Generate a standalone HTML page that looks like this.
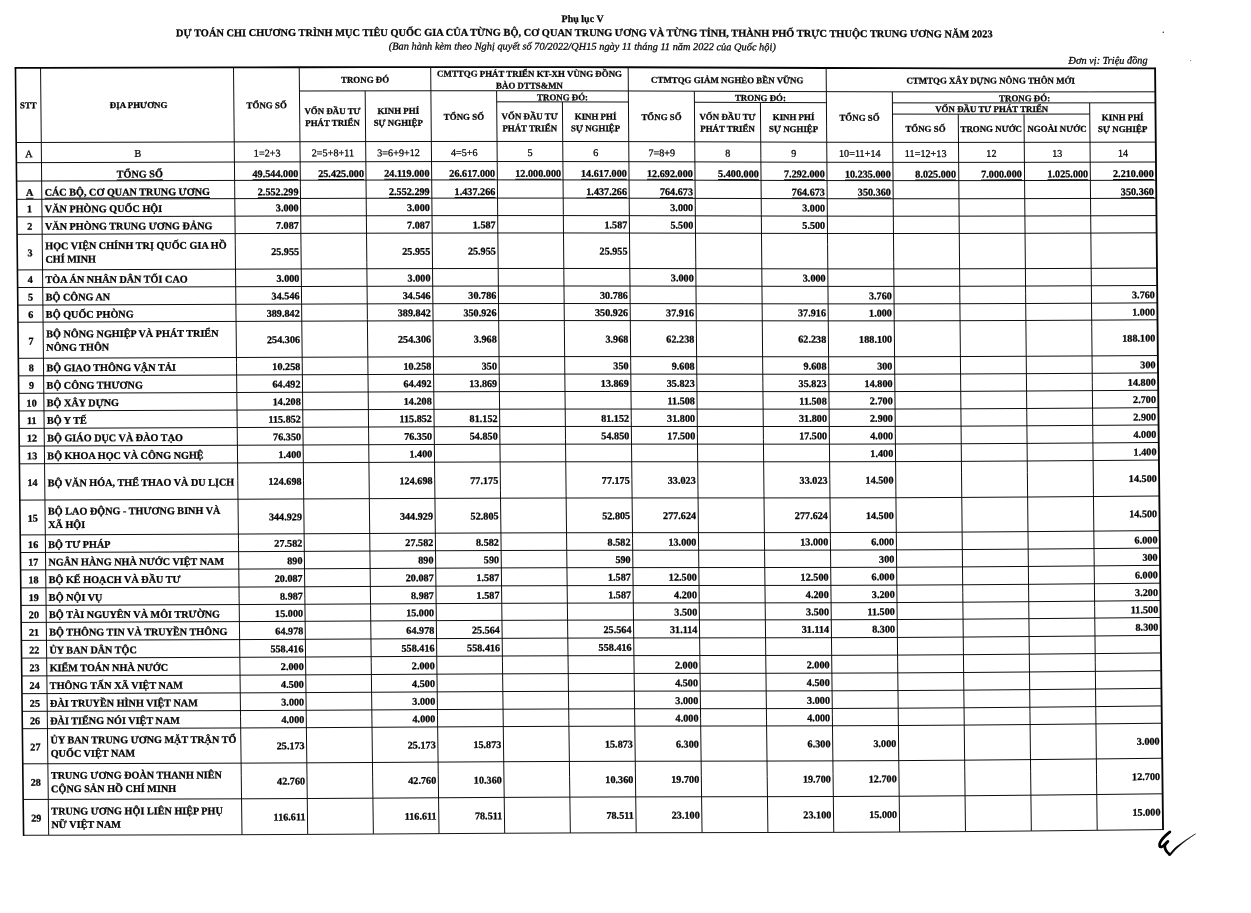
<!DOCTYPE html>
<html lang="vi"><head><meta charset="utf-8"><title>Phụ lục V</title>
<style>
html,body{margin:0;padding:0;background:#fff;}
body{width:1251px;height:913px;overflow:hidden;position:relative;font-family:"Liberation Serif",serif;color:#050505;}
#pg{position:absolute;left:0;top:0;width:1251px;height:913px;}
.t{position:absolute;left:0;top:0;transform-origin:0 0;white-space:nowrap;margin:0;padding:0;-webkit-text-stroke:0.27px #050505;}
.b{font-weight:bold;}
.n{font-weight:normal;}
.it{font-style:italic;}
.u{text-decoration:underline;text-decoration-thickness:1px;text-underline-offset:2.0px;}
#grid{position:absolute;left:0;top:0;pointer-events:none;}
</style></head>
<body><div id="pg">
<div class="t b" style="width:900px;text-align:center;font-size:10.0px;line-height:11px;height:11px;transform:matrix(1,0.00226,0.0105,1,132.51,11.94)">Phụ lục V</div>
<div class="t b" style="font-size:10.38px;line-height:11px;height:11px;transform:matrix(1,-0.00224,0.0105,1,175.87,27.30)">DỰ</div>
<div class="t b" style="font-size:10.38px;line-height:11px;height:11px;transform:matrix(1,-0.00219,0.0105,1,194.04,27.25)">TOÁN</div>
<div class="t b" style="font-size:10.38px;line-height:11px;height:11px;transform:matrix(1,-0.00212,0.0105,1,226.44,27.19)">CHI</div>
<div class="t b" style="font-size:10.38px;line-height:11px;height:11px;transform:matrix(1,-0.00202,0.0105,1,248.64,27.11)">CHƯƠNG</div>
<div class="t b" style="font-size:10.38px;line-height:11px;height:11px;transform:matrix(1,-0.00186,0.0105,1,298.53,27.03)">TRÌNH</div>
<div class="t b" style="font-size:10.38px;line-height:11px;height:11px;transform:matrix(1,-0.00166,0.0105,1,335.15,26.97)">MỤC</div>
<div class="t b" style="font-size:10.38px;line-height:11px;height:11px;transform:matrix(1,-0.00143,0.0105,1,362.35,26.93)">TIÊU</div>
<div class="t b" style="font-size:10.38px;line-height:11px;height:11px;transform:matrix(1,-0.00109,0.0105,1,390.33,26.89)">QUỐC</div>
<div class="t b" style="font-size:10.38px;line-height:11px;height:11px;transform:matrix(1,-0.00100,0.0105,1,424.06,26.86)">GIA</div>
<div class="t b" style="font-size:10.38px;line-height:11px;height:11px;transform:matrix(1,-0.00100,0.0105,1,445.70,26.85)">CỦA</div>
<div class="t b" style="font-size:10.38px;line-height:11px;height:11px;transform:matrix(1,0.00100,0.0105,1,470.02,26.85)">TỪNG</div>
<div class="t b" style="font-size:10.38px;line-height:11px;height:11px;transform:matrix(1,0.00100,0.0105,1,503.37,26.86)">BỘ,</div>
<div class="t b" style="font-size:10.38px;line-height:11px;height:11px;transform:matrix(1,0.00109,0.0105,1,523.56,26.87)">CƠ</div>
<div class="t b" style="font-size:10.38px;line-height:11px;height:11px;transform:matrix(1,0.00169,0.0105,1,541.72,26.91)">QUAN</div>
<div class="t b" style="font-size:10.38px;line-height:11px;height:11px;transform:matrix(1,0.00250,0.0105,1,574.70,26.99)">TRUNG</div>
<div class="t b" style="font-size:10.38px;line-height:11px;height:11px;transform:matrix(1,0.00318,0.0105,1,614.78,27.09)">ƯƠNG</div>
<div class="t b" style="font-size:10.38px;line-height:11px;height:11px;transform:matrix(1,0.00353,0.0105,1,649.09,27.18)">VÀ</div>
<div class="t b" style="font-size:10.38px;line-height:11px;height:11px;transform:matrix(1,0.00378,0.0105,1,666.49,27.27)">TỪNG</div>
<div class="t b" style="font-size:10.38px;line-height:11px;height:11px;transform:matrix(1,0.00397,0.0105,1,699.66,27.40)">TỈNH,</div>
<div class="t b" style="font-size:10.38px;line-height:11px;height:11px;transform:matrix(1,0.00400,0.0105,1,731.19,27.55)">THÀNH</div>
<div class="t b" style="font-size:10.38px;line-height:11px;height:11px;transform:matrix(1,0.00388,0.0105,1,771.85,27.68)">PHỐ</div>
<div class="t b" style="font-size:10.38px;line-height:11px;height:11px;transform:matrix(1,0.00364,0.0105,1,796.75,27.79)">TRỰC</div>
<div class="t b" style="font-size:10.38px;line-height:11px;height:11px;transform:matrix(1,0.00318,0.0105,1,829.34,27.91)">THUỘC</div>
<div class="t b" style="font-size:10.38px;line-height:11px;height:11px;transform:matrix(1,0.00246,0.0105,1,869.81,28.03)">TRUNG</div>
<div class="t b" style="font-size:10.38px;line-height:11px;height:11px;transform:matrix(1,0.00172,0.0105,1,909.89,28.10)">ƯƠNG</div>
<div class="t b" style="font-size:10.38px;line-height:11px;height:11px;transform:matrix(1,0.00118,0.0105,1,944.39,28.15)">NĂM</div>
<div class="t b" style="font-size:10.38px;line-height:11px;height:11px;transform:matrix(1,0.00100,0.0105,1,971.78,28.17)">2023</div>
<div class="t it" style="font-size:10.38px;line-height:11px;height:11px;transform:matrix(1,-0.00118,0.0105,1,388.66,40.60)">(Ban</div>
<div class="t it" style="font-size:10.38px;line-height:11px;height:11px;transform:matrix(1,-0.00100,0.0105,1,411.43,40.57)">hành</div>
<div class="t it" style="font-size:10.38px;line-height:11px;height:11px;transform:matrix(1,-0.00100,0.0105,1,434.79,40.56)">kèm</div>
<div class="t it" style="font-size:10.38px;line-height:11px;height:11px;transform:matrix(1,-0.00100,0.0105,1,454.10,40.55)">theo</div>
<div class="t it" style="font-size:10.38px;line-height:11px;height:11px;transform:matrix(1,0.00100,0.0105,1,474.56,40.55)">Nghị</div>
<div class="t it" style="font-size:10.38px;line-height:11px;height:11px;transform:matrix(1,0.00100,0.0105,1,497.34,40.56)">quyết</div>
<div class="t it" style="font-size:10.38px;line-height:11px;height:11px;transform:matrix(1,0.00100,0.0105,1,522.42,40.57)">số</div>
<div class="t it" style="font-size:10.38px;line-height:11px;height:11px;transform:matrix(1,0.00188,0.0105,1,534.24,40.62)">70/2022/QH15</div>
<div class="t it" style="font-size:10.38px;line-height:11px;height:11px;transform:matrix(1,0.00281,0.0105,1,599.12,40.73)">ngày</div>
<div class="t it" style="font-size:10.38px;line-height:11px;height:11px;transform:matrix(1,0.00311,0.0105,1,621.89,40.78)">11</div>
<div class="t it" style="font-size:10.38px;line-height:11px;height:11px;transform:matrix(1,0.00339,0.0105,1,634.10,40.84)">tháng</div>
<div class="t it" style="font-size:10.38px;line-height:11px;height:11px;transform:matrix(1,0.00362,0.0105,1,660.34,40.91)">11</div>
<div class="t it" style="font-size:10.38px;line-height:11px;height:11px;transform:matrix(1,0.00377,0.0105,1,672.54,40.97)">năm</div>
<div class="t it" style="font-size:10.38px;line-height:11px;height:11px;transform:matrix(1,0.00392,0.0105,1,693.01,41.06)">2022</div>
<div class="t it" style="font-size:10.38px;line-height:11px;height:11px;transform:matrix(1,0.00399,0.0105,1,716.37,41.14)">của</div>
<div class="t it" style="font-size:10.38px;line-height:11px;height:11px;transform:matrix(1,0.00401,0.0105,1,733.95,41.23)">Quốc</div>
<div class="t it" style="font-size:10.38px;line-height:11px;height:11px;transform:matrix(1,0.00396,0.0105,1,759.03,41.31)">hội)</div>
<div class="t it" style="width:300px;text-align:right;font-size:10.3px;line-height:11px;height:11px;transform:matrix(1,-0.00100,0.0105,1,847.51,54.90)">Đơn vị: Triệu đồng</div>
<div class="t b" style="width:900px;text-align:center;font-size:8.9px;line-height:10px;height:10px;transform:matrix(1,-0.00275,0.0105,1,-421.71,101.54)">STT</div>
<div class="t b" style="width:900px;text-align:center;font-size:8.9px;line-height:10px;height:10px;transform:matrix(1,-0.00266,0.0105,1,-311.49,101.21)">ĐỊA PHƯƠNG</div>
<div class="t b" style="width:900px;text-align:center;font-size:8.9px;line-height:10px;height:10px;transform:matrix(1,-0.00233,0.0105,1,-183.36,101.23)">TỔNG SỐ</div>
<div class="t b" style="width:900px;text-align:center;font-size:8.9px;line-height:10px;height:10px;transform:matrix(1,-0.00163,0.0105,1,-85.02,75.37)">TRONG ĐÓ</div>
<div class="t b" style="width:900px;text-align:center;font-size:8.9px;line-height:10px;height:10px;transform:matrix(1,-0.00205,0.0105,1,-117.53,106.89)">VỐN ĐẦU TƯ</div>
<div class="t b" style="width:900px;text-align:center;font-size:8.9px;line-height:10px;height:10px;transform:matrix(1,-0.00212,0.0105,1,-117.53,118.82)">PHÁT TRIỂN</div>
<div class="t b" style="width:900px;text-align:center;font-size:8.9px;line-height:10px;height:10px;transform:matrix(1,-0.00145,0.0105,1,-51.82,106.50)">KINH PHÍ</div>
<div class="t b" style="width:900px;text-align:center;font-size:8.9px;line-height:10px;height:10px;transform:matrix(1,-0.00152,0.0105,1,-51.82,118.43)">SỰ NGHIỆP</div>
<div class="t b" style="width:900px;text-align:center;font-size:8.9px;line-height:10px;height:10px;transform:matrix(1,0.00100,0.0105,1,79.44,68.23)">CMTTQG PHÁT TRIỂN KT-XH VÙNG ĐỒNG</div>
<div class="t b" style="width:900px;text-align:center;font-size:8.9px;line-height:10px;height:10px;transform:matrix(1,0.00100,0.0105,1,79.44,80.13)">BÀO DTTS&amp;MN</div>
<div class="t b" style="width:900px;text-align:center;font-size:8.9px;line-height:10px;height:10px;transform:matrix(1,0.00379,0.0105,1,277.16,73.38)">CTMTQG GIẢM NGHÈO BỀN VỮNG</div>
<div class="t b" style="width:900px;text-align:center;font-size:8.9px;line-height:10px;height:10px;transform:matrix(1,0.00100,0.0105,1,540.63,75.10)">CTMTQG XÂY DỰNG NÔNG THÔN MỚI</div>
<div class="t b" style="width:900px;text-align:center;font-size:8.9px;line-height:10px;height:10px;transform:matrix(1,-0.00100,0.0105,1,13.89,112.18)">TỔNG SỐ</div>
<div class="t b" style="width:900px;text-align:center;font-size:8.9px;line-height:10px;height:10px;transform:matrix(1,0.00313,0.0105,1,211.45,110.60)">TỔNG SỐ</div>
<div class="t b" style="width:900px;text-align:center;font-size:8.9px;line-height:10px;height:10px;transform:matrix(1,0.00218,0.0105,1,409.44,111.65)">TỔNG SỐ</div>
<div class="t b" style="width:900px;text-align:center;font-size:8.9px;line-height:10px;height:10px;transform:matrix(1,0.00158,0.0105,1,112.48,91.57)">TRONG ĐÓ:</div>
<div class="t b" style="width:900px;text-align:center;font-size:8.9px;line-height:10px;height:10px;transform:matrix(1,0.00100,0.0105,1,79.64,110.87)">VỐN ĐẦU TƯ</div>
<div class="t b" style="width:900px;text-align:center;font-size:8.9px;line-height:10px;height:10px;transform:matrix(1,0.00100,0.0105,1,79.64,122.77)">PHÁT TRIỂN</div>
<div class="t b" style="width:900px;text-align:center;font-size:8.9px;line-height:10px;height:10px;transform:matrix(1,0.00216,0.0105,1,145.49,110.44)">KINH PHÍ</div>
<div class="t b" style="width:900px;text-align:center;font-size:8.9px;line-height:10px;height:10px;transform:matrix(1,0.00208,0.0105,1,145.49,122.38)">SỰ NGHIỆP</div>
<div class="t b" style="width:900px;text-align:center;font-size:8.9px;line-height:10px;height:10px;transform:matrix(1,0.00357,0.0105,1,310.33,91.27)">TRONG ĐÓ:</div>
<div class="t b" style="width:900px;text-align:center;font-size:8.9px;line-height:10px;height:10px;transform:matrix(1,0.00346,0.0105,1,277.49,110.25)">VỐN ĐẦU TƯ</div>
<div class="t b" style="width:900px;text-align:center;font-size:8.9px;line-height:10px;height:10px;transform:matrix(1,0.00335,0.0105,1,277.49,122.20)">PHÁT TRIỂN</div>
<div class="t b" style="width:900px;text-align:center;font-size:8.9px;line-height:10px;height:10px;transform:matrix(1,0.00315,0.0105,1,343.49,110.61)">KINH PHÍ</div>
<div class="t b" style="width:900px;text-align:center;font-size:8.9px;line-height:10px;height:10px;transform:matrix(1,0.00302,0.0105,1,343.49,122.57)">SỰ NGHIỆP</div>
<div class="t b" style="width:900px;text-align:center;font-size:8.9px;line-height:10px;height:10px;transform:matrix(1,-0.00100,0.0105,1,574.53,93.68)">TRONG ĐÓ:</div>
<div class="t b" style="width:900px;text-align:center;font-size:8.9px;line-height:10px;height:10px;transform:matrix(1,-0.00100,0.0105,1,541.65,104.40)">VỐN ĐẦU TƯ PHÁT TRIỂN</div>
<div class="t b" style="width:900px;text-align:center;font-size:8.9px;line-height:10px;height:10px;transform:matrix(1,0.00100,0.0105,1,475.41,123.41)">TỔNG SỐ</div>
<div class="t b" style="width:900px;text-align:center;font-size:8.9px;line-height:10px;height:10px;transform:matrix(1,-0.00100,0.0105,1,541.17,124.31)">TRONG NƯỚC</div>
<div class="t b" style="width:900px;text-align:center;font-size:8.9px;line-height:10px;height:10px;transform:matrix(1,-0.00143,0.0105,1,606.92,124.44)">NGOÀI NƯỚC</div>
<div class="t b" style="width:900px;text-align:center;font-size:8.9px;line-height:10px;height:10px;transform:matrix(1,-0.00159,0.0105,1,672.63,112.87)">KINH PHÍ</div>
<div class="t b" style="width:900px;text-align:center;font-size:8.9px;line-height:10px;height:10px;transform:matrix(1,-0.00183,0.0105,1,672.63,124.88)">SỰ NGHIỆP</div>
<div class="t n" style="width:900px;text-align:center;font-size:10.2px;line-height:11px;height:11px;transform:matrix(1,-0.00307,0.0105,1,-421.27,149.53)">A</div>
<div class="t n" style="width:900px;text-align:center;font-size:10.2px;line-height:11px;height:11px;transform:matrix(1,-0.00298,0.0105,1,-312.24,149.15)">B</div>
<div class="t n" style="width:900px;text-align:center;font-size:10.2px;line-height:11px;height:11px;transform:matrix(1,-0.00262,0.0105,1,-182.90,148.62)">1=2+3</div>
<div class="t n" style="width:900px;text-align:center;font-size:10.2px;line-height:11px;height:11px;transform:matrix(1,-0.00230,0.0105,1,-117.20,148.31)">2=5+8+11</div>
<div class="t n" style="width:900px;text-align:center;font-size:10.2px;line-height:11px;height:11px;transform:matrix(1,-0.00169,0.0105,1,-51.51,147.90)">3=6+9+12</div>
<div class="t n" style="width:900px;text-align:center;font-size:10.2px;line-height:11px;height:11px;transform:matrix(1,-0.00100,0.0105,1,14.18,147.51)">4=5+6</div>
<div class="t n" style="width:900px;text-align:center;font-size:10.2px;line-height:11px;height:11px;transform:matrix(1,0.00100,0.0105,1,79.88,146.59)">5</div>
<div class="t n" style="width:900px;text-align:center;font-size:10.2px;line-height:11px;height:11px;transform:matrix(1,0.00191,0.0105,1,145.72,146.26)">6</div>
<div class="t n" style="width:900px;text-align:center;font-size:10.2px;line-height:11px;height:11px;transform:matrix(1,0.00285,0.0105,1,211.72,146.00)">7=8+9</div>
<div class="t n" style="width:900px;text-align:center;font-size:10.2px;line-height:11px;height:11px;transform:matrix(1,0.00312,0.0105,1,277.72,146.07)">8</div>
<div class="t n" style="width:900px;text-align:center;font-size:10.2px;line-height:11px;height:11px;transform:matrix(1,0.00274,0.0105,1,343.71,146.44)">9</div>
<div class="t n" style="width:900px;text-align:center;font-size:10.2px;line-height:11px;height:11px;transform:matrix(1,0.00171,0.0105,1,409.71,147.06)">10=11+14</div>
<div class="t n" style="width:900px;text-align:center;font-size:10.2px;line-height:11px;height:11px;transform:matrix(1,0.00100,0.0105,1,475.59,147.43)">11=12+13</div>
<div class="t n" style="width:900px;text-align:center;font-size:10.2px;line-height:11px;height:11px;transform:matrix(1,-0.00106,0.0105,1,541.36,148.32)">12</div>
<div class="t n" style="width:900px;text-align:center;font-size:10.2px;line-height:11px;height:11px;transform:matrix(1,-0.00190,0.0105,1,607.13,148.59)">13</div>
<div class="t n" style="width:900px;text-align:center;font-size:10.2px;line-height:11px;height:11px;transform:matrix(1,-0.00231,0.0105,1,672.89,148.62)">14</div>
<div class="t b u" style="width:900px;text-align:center;font-size:10.2px;line-height:11px;height:11px;transform:matrix(1,-0.00309,0.0105,1,-310.35,169.79)">TỔNG SỐ</div>
<div class="t b u" style="width:300px;text-align:right;font-size:10.2px;line-height:11px;height:11px;transform:matrix(1,-0.00262,0.0105,1,-1.75,168.82)">49.544.000</div>
<div class="t b u" style="width:300px;text-align:right;font-size:10.2px;line-height:11px;height:11px;transform:matrix(1,-0.00218,0.0105,1,63.93,168.53)">25.425.000</div>
<div class="t b u" style="width:300px;text-align:right;font-size:10.2px;line-height:11px;height:11px;transform:matrix(1,-0.00143,0.0105,1,129.41,168.18)">24.119.000</div>
<div class="t b u" style="width:300px;text-align:right;font-size:10.2px;line-height:11px;height:11px;transform:matrix(1,-0.00100,0.0105,1,195.09,167.99)">26.617.000</div>
<div class="t b u" style="width:300px;text-align:right;font-size:10.2px;line-height:11px;height:11px;transform:matrix(1,0.00104,0.0105,1,260.98,167.39)">12.000.000</div>
<div class="t b u" style="width:300px;text-align:right;font-size:10.2px;line-height:11px;height:11px;transform:matrix(1,0.00227,0.0105,1,326.78,167.13)">14.617.000</div>
<div class="t b u" style="width:300px;text-align:right;font-size:10.2px;line-height:11px;height:11px;transform:matrix(1,0.00288,0.0105,1,392.77,167.13)">12.692.000</div>
<div class="t b u" style="width:300px;text-align:right;font-size:10.2px;line-height:11px;height:11px;transform:matrix(1,0.00282,0.0105,1,458.77,167.34)">5.400.000</div>
<div class="t b u" style="width:300px;text-align:right;font-size:10.2px;line-height:11px;height:11px;transform:matrix(1,0.00210,0.0105,1,524.67,167.72)">7.292.000</div>
<div class="t b u" style="width:300px;text-align:right;font-size:10.2px;line-height:11px;height:11px;transform:matrix(1,0.00100,0.0105,1,590.67,168.14)">10.235.000</div>
<div class="t b u" style="width:300px;text-align:right;font-size:10.2px;line-height:11px;height:11px;transform:matrix(1,-0.00100,0.0105,1,655.94,168.74)">8.025.000</div>
<div class="t b u" style="width:300px;text-align:right;font-size:10.2px;line-height:11px;height:11px;transform:matrix(1,-0.00187,0.0105,1,721.81,168.90)">7.000.000</div>
<div class="t b u" style="width:300px;text-align:right;font-size:10.2px;line-height:11px;height:11px;transform:matrix(1,-0.00254,0.0105,1,788.08,168.95)">1.025.000</div>
<div class="t b u" style="width:300px;text-align:right;font-size:10.2px;line-height:11px;height:11px;transform:matrix(1,-0.00270,0.0105,1,853.65,168.81)">2.210.000</div>
<div class="t b u" style="width:900px;text-align:center;font-size:10.2px;line-height:11px;height:11px;transform:matrix(1,-0.00329,0.0105,1,-420.30,188.17)">A</div>
<div class="t b u" style="font-size:10.2px;line-height:11px;height:11px;transform:matrix(1,-0.00329,0.0105,1,44.55,186.64)">CÁC BỘ, CƠ QUAN TRUNG ƯƠNG</div>
<div class="t b u" style="width:300px;text-align:right;font-size:10.2px;line-height:11px;height:11px;transform:matrix(1,-0.00272,0.0105,1,-1.57,187.07)">2.552.299</div>
<div class="t b u" style="width:300px;text-align:right;font-size:10.2px;line-height:11px;height:11px;transform:matrix(1,-0.00155,0.0105,1,129.58,186.41)">2.552.299</div>
<div class="t b u" style="width:300px;text-align:right;font-size:10.2px;line-height:11px;height:11px;transform:matrix(1,-0.00100,0.0105,1,195.25,186.18)">1.437.266</div>
<div class="t b u" style="width:300px;text-align:right;font-size:10.2px;line-height:11px;height:11px;transform:matrix(1,0.00213,0.0105,1,326.93,185.35)">1.437.266</div>
<div class="t b u" style="width:300px;text-align:right;font-size:10.2px;line-height:11px;height:11px;transform:matrix(1,0.00272,0.0105,1,392.92,185.34)">764.673</div>
<div class="t b u" style="width:300px;text-align:right;font-size:10.2px;line-height:11px;height:11px;transform:matrix(1,0.00188,0.0105,1,524.82,185.92)">764.673</div>
<div class="t b u" style="width:300px;text-align:right;font-size:10.2px;line-height:11px;height:11px;transform:matrix(1,0.00100,0.0105,1,590.82,186.27)">350.360</div>
<div class="t b u" style="width:300px;text-align:right;font-size:10.2px;line-height:11px;height:11px;transform:matrix(1,-0.00304,0.0105,1,853.83,186.96)">350.360</div>
<div class="t b" style="width:900px;text-align:center;font-size:10.2px;line-height:11px;height:11px;transform:matrix(1,-0.00337,0.0105,1,-420.43,204.88)">1</div>
<div class="t b" style="font-size:10.2px;line-height:11px;height:11px;transform:matrix(1,-0.00337,0.0105,1,44.72,203.31)">VĂN PHÒNG QUỐC HỘI</div>
<div class="t b" style="width:300px;text-align:right;font-size:10.2px;line-height:11px;height:11px;transform:matrix(1,-0.00282,0.0105,1,-1.39,203.05)">3.000</div>
<div class="t b" style="width:300px;text-align:right;font-size:10.2px;line-height:11px;height:11px;transform:matrix(1,-0.00165,0.0105,1,129.74,202.40)">3.000</div>
<div class="t b" style="width:300px;text-align:right;font-size:10.2px;line-height:11px;height:11px;transform:matrix(1,0.00258,0.0105,1,393.08,201.31)">3.000</div>
<div class="t b" style="width:300px;text-align:right;font-size:10.2px;line-height:11px;height:11px;transform:matrix(1,0.00169,0.0105,1,524.97,201.90)">3.000</div>
<div class="t b" style="width:900px;text-align:center;font-size:10.2px;line-height:11px;height:11px;transform:matrix(1,-0.00346,0.0105,1,-420.25,222.41)">2</div>
<div class="t b" style="font-size:10.2px;line-height:11px;height:11px;transform:matrix(1,-0.00346,0.0105,1,44.90,220.80)">VĂN PHÒNG TRUNG ƯƠNG ĐẢNG</div>
<div class="t b" style="width:300px;text-align:right;font-size:10.2px;line-height:11px;height:11px;transform:matrix(1,-0.00292,0.0105,1,-1.21,220.55)">7.087</div>
<div class="t b" style="width:300px;text-align:right;font-size:10.2px;line-height:11px;height:11px;transform:matrix(1,-0.00177,0.0105,1,129.91,219.89)">7.087</div>
<div class="t b" style="width:300px;text-align:right;font-size:10.2px;line-height:11px;height:11px;transform:matrix(1,-0.00100,0.0105,1,195.57,219.57)">1.587</div>
<div class="t b" style="width:300px;text-align:right;font-size:10.2px;line-height:11px;height:11px;transform:matrix(1,0.00186,0.0105,1,327.23,218.80)">1.587</div>
<div class="t b" style="width:300px;text-align:right;font-size:10.2px;line-height:11px;height:11px;transform:matrix(1,0.00242,0.0105,1,393.22,218.78)">5.500</div>
<div class="t b" style="width:300px;text-align:right;font-size:10.2px;line-height:11px;height:11px;transform:matrix(1,0.00148,0.0105,1,525.11,219.36)">5.500</div>
<div class="t b" style="width:900px;text-align:center;font-size:10.2px;line-height:11px;height:11px;transform:matrix(1,-0.00357,0.0105,1,-419.99,248.84)">3</div>
<div class="t b" style="font-size:10.2px;line-height:11px;height:11px;transform:matrix(1,-0.00354,0.0105,1,45.16,240.23)">HỌC VIỆN CHÍNH TRỊ QUỐC GIA HỒ</div>
<div class="t b" style="font-size:10.2px;line-height:11px;height:11px;transform:matrix(1,-0.00360,0.0105,1,45.30,253.63)">CHÍ MINH</div>
<div class="t b" style="width:300px;text-align:right;font-size:10.2px;line-height:11px;height:11px;transform:matrix(1,-0.00308,0.0105,1,-0.94,246.89)">25.955</div>
<div class="t b" style="width:300px;text-align:right;font-size:10.2px;line-height:11px;height:11px;transform:matrix(1,-0.00196,0.0105,1,130.16,246.21)">25.955</div>
<div class="t b" style="width:300px;text-align:right;font-size:10.2px;line-height:11px;height:11px;transform:matrix(1,-0.00100,0.0105,1,195.81,245.83)">25.955</div>
<div class="t b" style="width:300px;text-align:right;font-size:10.2px;line-height:11px;height:11px;transform:matrix(1,0.00164,0.0105,1,327.46,245.09)">25.955</div>
<div class="t b" style="width:900px;text-align:center;font-size:10.2px;line-height:11px;height:11px;transform:matrix(1,-0.00367,0.0105,1,-419.72,275.63)">4</div>
<div class="t b" style="font-size:10.2px;line-height:11px;height:11px;transform:matrix(1,-0.00367,0.0105,1,45.43,273.92)">TÒA ÁN NHÂN DÂN TỐI CAO</div>
<div class="t b" style="width:300px;text-align:right;font-size:10.2px;line-height:11px;height:11px;transform:matrix(1,-0.00323,0.0105,1,-0.67,273.70)">3.000</div>
<div class="t b" style="width:300px;text-align:right;font-size:10.2px;line-height:11px;height:11px;transform:matrix(1,-0.00216,0.0105,1,130.42,273.01)">3.000</div>
<div class="t b" style="width:300px;text-align:right;font-size:10.2px;line-height:11px;height:11px;transform:matrix(1,0.00194,0.0105,1,393.69,271.82)">3.000</div>
<div class="t b" style="width:300px;text-align:right;font-size:10.2px;line-height:11px;height:11px;transform:matrix(1,0.00100,0.0105,1,525.57,272.33)">3.000</div>
<div class="t b" style="width:900px;text-align:center;font-size:10.2px;line-height:11px;height:11px;transform:matrix(1,-0.00373,0.0105,1,-419.54,293.25)">5</div>
<div class="t b" style="font-size:10.2px;line-height:11px;height:11px;transform:matrix(1,-0.00373,0.0105,1,45.61,291.51)">BỘ CÔNG AN</div>
<div class="t b" style="width:300px;text-align:right;font-size:10.2px;line-height:11px;height:11px;transform:matrix(1,-0.00334,0.0105,1,-0.48,291.31)">34.546</div>
<div class="t b" style="width:300px;text-align:right;font-size:10.2px;line-height:11px;height:11px;transform:matrix(1,-0.00230,0.0105,1,130.59,290.61)">34.546</div>
<div class="t b" style="width:300px;text-align:right;font-size:10.2px;line-height:11px;height:11px;transform:matrix(1,-0.00127,0.0105,1,196.23,290.18)">30.786</div>
<div class="t b" style="width:300px;text-align:right;font-size:10.2px;line-height:11px;height:11px;transform:matrix(1,0.00127,0.0105,1,327.86,289.43)">30.786</div>
<div class="t b" style="width:300px;text-align:right;font-size:10.2px;line-height:11px;height:11px;transform:matrix(1,-0.00100,0.0105,1,591.72,290.42)">3.760</div>
<div class="t b" style="width:300px;text-align:right;font-size:10.2px;line-height:11px;height:11px;transform:matrix(1,-0.00487,0.0105,1,854.85,290.64)">3.760</div>
<div class="t b" style="width:900px;text-align:center;font-size:10.2px;line-height:11px;height:11px;transform:matrix(1,-0.00378,0.0105,1,-419.37,310.62)">6</div>
<div class="t b" style="font-size:10.2px;line-height:11px;height:11px;transform:matrix(1,-0.00378,0.0105,1,45.78,308.86)">BỘ QUỐC PHÒNG</div>
<div class="t b" style="width:300px;text-align:right;font-size:10.2px;line-height:11px;height:11px;transform:matrix(1,-0.00343,0.0105,1,-0.30,308.67)">389.842</div>
<div class="t b" style="width:300px;text-align:right;font-size:10.2px;line-height:11px;height:11px;transform:matrix(1,-0.00243,0.0105,1,130.76,307.97)">389.842</div>
<div class="t b" style="width:300px;text-align:right;font-size:10.2px;line-height:11px;height:11px;transform:matrix(1,-0.00141,0.0105,1,196.40,307.53)">350.926</div>
<div class="t b" style="width:300px;text-align:right;font-size:10.2px;line-height:11px;height:11px;transform:matrix(1,0.00112,0.0105,1,328.02,306.77)">350.926</div>
<div class="t b" style="width:300px;text-align:right;font-size:10.2px;line-height:11px;height:11px;transform:matrix(1,0.00162,0.0105,1,394.01,306.71)">37.916</div>
<div class="t b" style="width:300px;text-align:right;font-size:10.2px;line-height:11px;height:11px;transform:matrix(1,0.00100,0.0105,1,525.89,307.08)">37.916</div>
<div class="t b" style="width:300px;text-align:right;font-size:10.2px;line-height:11px;height:11px;transform:matrix(1,-0.00116,0.0105,1,591.87,307.71)">1.000</div>
<div class="t b" style="width:300px;text-align:right;font-size:10.2px;line-height:11px;height:11px;transform:matrix(1,-0.00515,0.0105,1,855.02,307.90)">1.000</div>
<div class="t b" style="width:900px;text-align:center;font-size:10.2px;line-height:11px;height:11px;transform:matrix(1,-0.00384,0.0105,1,-419.10,337.10)">7</div>
<div class="t b" style="font-size:10.2px;line-height:11px;height:11px;transform:matrix(1,-0.00383,0.0105,1,46.05,328.37)">BỘ NÔNG NGHIỆP VÀ PHÁT TRIỂN</div>
<div class="t b" style="font-size:10.2px;line-height:11px;height:11px;transform:matrix(1,-0.00385,0.0105,1,46.19,341.77)">NÔNG THÔN</div>
<div class="t b" style="width:300px;text-align:right;font-size:10.2px;line-height:11px;height:11px;transform:matrix(1,-0.00358,0.0105,1,-0.02,335.09)">254.306</div>
<div class="t b" style="width:300px;text-align:right;font-size:10.2px;line-height:11px;height:11px;transform:matrix(1,-0.00264,0.0105,1,131.03,334.38)">254.306</div>
<div class="t b" style="width:300px;text-align:right;font-size:10.2px;line-height:11px;height:11px;transform:matrix(1,-0.00163,0.0105,1,196.66,333.94)">3.968</div>
<div class="t b" style="width:300px;text-align:right;font-size:10.2px;line-height:11px;height:11px;transform:matrix(1,0.00100,0.0105,1,328.27,333.11)">3.968</div>
<div class="t b" style="width:300px;text-align:right;font-size:10.2px;line-height:11px;height:11px;transform:matrix(1,0.00138,0.0105,1,394.26,333.08)">62.238</div>
<div class="t b" style="width:300px;text-align:right;font-size:10.2px;line-height:11px;height:11px;transform:matrix(1,0.00100,0.0105,1,526.13,333.34)">62.238</div>
<div class="t b" style="width:300px;text-align:right;font-size:10.2px;line-height:11px;height:11px;transform:matrix(1,-0.00149,0.0105,1,592.11,334.05)">188.100</div>
<div class="t b" style="width:300px;text-align:right;font-size:10.2px;line-height:11px;height:11px;transform:matrix(1,-0.00558,0.0105,1,855.28,334.16)">188.100</div>
<div class="t b" style="width:900px;text-align:center;font-size:10.2px;line-height:11px;height:11px;transform:matrix(1,-0.00389,0.0105,1,-418.82,364.09)">8</div>
<div class="t b" style="font-size:10.2px;line-height:11px;height:11px;transform:matrix(1,-0.00389,0.0105,1,46.33,362.28)">BỘ GIAO THÔNG VẬN TẢI</div>
<div class="t b" style="width:300px;text-align:right;font-size:10.2px;line-height:11px;height:11px;transform:matrix(1,-0.00373,0.0105,1,0.27,362.13)">10.258</div>
<div class="t b" style="width:300px;text-align:right;font-size:10.2px;line-height:11px;height:11px;transform:matrix(1,-0.00285,0.0105,1,131.31,361.42)">10.258</div>
<div class="t b" style="width:300px;text-align:right;font-size:10.2px;line-height:11px;height:11px;transform:matrix(1,-0.00186,0.0105,1,196.93,360.97)">350</div>
<div class="t b" style="width:300px;text-align:right;font-size:10.2px;line-height:11px;height:11px;transform:matrix(1,0.00100,0.0105,1,328.53,360.04)">350</div>
<div class="t b" style="width:300px;text-align:right;font-size:10.2px;line-height:11px;height:11px;transform:matrix(1,0.00113,0.0105,1,394.51,360.07)">9.608</div>
<div class="t b" style="width:300px;text-align:right;font-size:10.2px;line-height:11px;height:11px;transform:matrix(1,-0.00100,0.0105,1,526.38,360.81)">9.608</div>
<div class="t b" style="width:300px;text-align:right;font-size:10.2px;line-height:11px;height:11px;transform:matrix(1,-0.00183,0.0105,1,592.36,361.01)">300</div>
<div class="t b" style="width:300px;text-align:right;font-size:10.2px;line-height:11px;height:11px;transform:matrix(1,-0.00600,0.0105,1,855.55,361.03)">300</div>
<div class="t b" style="width:900px;text-align:center;font-size:10.2px;line-height:11px;height:11px;transform:matrix(1,-0.00392,0.0105,1,-418.64,381.62)">9</div>
<div class="t b" style="font-size:10.2px;line-height:11px;height:11px;transform:matrix(1,-0.00392,0.0105,1,46.51,379.80)">BỘ CÔNG THƯƠNG</div>
<div class="t b" style="width:300px;text-align:right;font-size:10.2px;line-height:11px;height:11px;transform:matrix(1,-0.00382,0.0105,1,0.45,379.66)">64.492</div>
<div class="t b" style="width:300px;text-align:right;font-size:10.2px;line-height:11px;height:11px;transform:matrix(1,-0.00299,0.0105,1,131.49,378.95)">64.492</div>
<div class="t b" style="width:300px;text-align:right;font-size:10.2px;line-height:11px;height:11px;transform:matrix(1,-0.00201,0.0105,1,197.11,378.49)">13.869</div>
<div class="t b" style="width:300px;text-align:right;font-size:10.2px;line-height:11px;height:11px;transform:matrix(1,0.00100,0.0105,1,328.71,377.49)">13.869</div>
<div class="t b" style="width:300px;text-align:right;font-size:10.2px;line-height:11px;height:11px;transform:matrix(1,0.00100,0.0105,1,394.68,377.55)">35.823</div>
<div class="t b" style="width:300px;text-align:right;font-size:10.2px;line-height:11px;height:11px;transform:matrix(1,-0.00100,0.0105,1,526.54,378.24)">35.823</div>
<div class="t b" style="width:300px;text-align:right;font-size:10.2px;line-height:11px;height:11px;transform:matrix(1,-0.00204,0.0105,1,592.52,378.48)">14.800</div>
<div class="t b" style="width:300px;text-align:right;font-size:10.2px;line-height:11px;height:11px;transform:matrix(1,-0.00627,0.0105,1,855.73,378.45)">14.800</div>
<div class="t b" style="width:900px;text-align:center;font-size:10.2px;line-height:11px;height:11px;transform:matrix(1,-0.00393,0.0105,1,-418.46,399.17)">10</div>
<div class="t b" style="font-size:10.2px;line-height:11px;height:11px;transform:matrix(1,-0.00393,0.0105,1,46.69,397.34)">BỘ XÂY DỰNG</div>
<div class="t b" style="width:300px;text-align:right;font-size:10.2px;line-height:11px;height:11px;transform:matrix(1,-0.00392,0.0105,1,0.64,397.21)">14.208</div>
<div class="t b" style="width:300px;text-align:right;font-size:10.2px;line-height:11px;height:11px;transform:matrix(1,-0.00314,0.0105,1,131.67,396.50)">14.208</div>
<div class="t b" style="width:300px;text-align:right;font-size:10.2px;line-height:11px;height:11px;transform:matrix(1,0.00100,0.0105,1,394.86,395.02)">11.508</div>
<div class="t b" style="width:300px;text-align:right;font-size:10.2px;line-height:11px;height:11px;transform:matrix(1,-0.00100,0.0105,1,526.71,395.69)">11.508</div>
<div class="t b" style="width:300px;text-align:right;font-size:10.2px;line-height:11px;height:11px;transform:matrix(1,-0.00225,0.0105,1,592.69,395.98)">2.700</div>
<div class="t b" style="width:300px;text-align:right;font-size:10.2px;line-height:11px;height:11px;transform:matrix(1,-0.00653,0.0105,1,855.91,395.90)">2.700</div>
<div class="t b" style="width:900px;text-align:center;font-size:10.2px;line-height:11px;height:11px;transform:matrix(1,-0.00394,0.0105,1,-418.27,416.69)">11</div>
<div class="t b" style="font-size:10.2px;line-height:11px;height:11px;transform:matrix(1,-0.00394,0.0105,1,46.88,414.85)">BỘ Y TẾ</div>
<div class="t b" style="width:300px;text-align:right;font-size:10.2px;line-height:11px;height:11px;transform:matrix(1,-0.00401,0.0105,1,0.84,414.75)">115.852</div>
<div class="t b" style="width:300px;text-align:right;font-size:10.2px;line-height:11px;height:11px;transform:matrix(1,-0.00328,0.0105,1,131.86,414.04)">115.852</div>
<div class="t b" style="width:300px;text-align:right;font-size:10.2px;line-height:11px;height:11px;transform:matrix(1,-0.00232,0.0105,1,197.47,413.56)">81.152</div>
<div class="t b" style="width:300px;text-align:right;font-size:10.2px;line-height:11px;height:11px;transform:matrix(1,0.00100,0.0105,1,329.06,412.44)">81.152</div>
<div class="t b" style="width:300px;text-align:right;font-size:10.2px;line-height:11px;height:11px;transform:matrix(1,0.00100,0.0105,1,395.03,412.48)">31.800</div>
<div class="t b" style="width:300px;text-align:right;font-size:10.2px;line-height:11px;height:11px;transform:matrix(1,-0.00100,0.0105,1,526.88,413.12)">31.800</div>
<div class="t b" style="width:300px;text-align:right;font-size:10.2px;line-height:11px;height:11px;transform:matrix(1,-0.00245,0.0105,1,592.85,413.46)">2.900</div>
<div class="t b" style="width:300px;text-align:right;font-size:10.2px;line-height:11px;height:11px;transform:matrix(1,-0.00678,0.0105,1,856.09,413.34)">2.900</div>
<div class="t b" style="width:900px;text-align:center;font-size:10.2px;line-height:11px;height:11px;transform:matrix(1,-0.00395,0.0105,1,-418.09,434.28)">12</div>
<div class="t b" style="font-size:10.2px;line-height:11px;height:11px;transform:matrix(1,-0.00395,0.0105,1,47.06,432.44)">BỘ GIÁO DỤC VÀ ĐÀO TẠO</div>
<div class="t b" style="width:300px;text-align:right;font-size:10.2px;line-height:11px;height:11px;transform:matrix(1,-0.00409,0.0105,1,1.03,432.35)">76.350</div>
<div class="t b" style="width:300px;text-align:right;font-size:10.2px;line-height:11px;height:11px;transform:matrix(1,-0.00342,0.0105,1,132.05,431.64)">76.350</div>
<div class="t b" style="width:300px;text-align:right;font-size:10.2px;line-height:11px;height:11px;transform:matrix(1,-0.00247,0.0105,1,197.66,431.16)">54.850</div>
<div class="t b" style="width:300px;text-align:right;font-size:10.2px;line-height:11px;height:11px;transform:matrix(1,0.00100,0.0105,1,329.24,429.97)">54.850</div>
<div class="t b" style="width:300px;text-align:right;font-size:10.2px;line-height:11px;height:11px;transform:matrix(1,0.00100,0.0105,1,395.21,430.00)">17.500</div>
<div class="t b" style="width:300px;text-align:right;font-size:10.2px;line-height:11px;height:11px;transform:matrix(1,-0.00100,0.0105,1,527.05,430.62)">17.500</div>
<div class="t b" style="width:300px;text-align:right;font-size:10.2px;line-height:11px;height:11px;transform:matrix(1,-0.00265,0.0105,1,593.02,431.00)">4.000</div>
<div class="t b" style="width:300px;text-align:right;font-size:10.2px;line-height:11px;height:11px;transform:matrix(1,-0.00703,0.0105,1,856.27,430.84)">4.000</div>
<div class="t b" style="width:900px;text-align:center;font-size:10.2px;line-height:11px;height:11px;transform:matrix(1,-0.00394,0.0105,1,-417.90,451.99)">13</div>
<div class="t b" style="font-size:10.2px;line-height:11px;height:11px;transform:matrix(1,-0.00394,0.0105,1,47.25,450.16)">BỘ KHOA HỌC VÀ CÔNG NGHỆ</div>
<div class="t b" style="width:300px;text-align:right;font-size:10.2px;line-height:11px;height:11px;transform:matrix(1,-0.00418,0.0105,1,1.22,450.09)">1.400</div>
<div class="t b" style="width:300px;text-align:right;font-size:10.2px;line-height:11px;height:11px;transform:matrix(1,-0.00357,0.0105,1,132.24,449.38)">1.400</div>
<div class="t b" style="width:300px;text-align:right;font-size:10.2px;line-height:11px;height:11px;transform:matrix(1,-0.00285,0.0105,1,593.19,448.68)">1.400</div>
<div class="t b" style="width:300px;text-align:right;font-size:10.2px;line-height:11px;height:11px;transform:matrix(1,-0.00728,0.0105,1,856.45,448.47)">1.400</div>
<div class="t b" style="width:900px;text-align:center;font-size:10.2px;line-height:11px;height:11px;transform:matrix(1,-0.00392,0.0105,1,-417.61,478.83)">14</div>
<div class="t b" style="font-size:10.2px;line-height:11px;height:11px;transform:matrix(1,-0.00392,0.0105,1,47.54,477.26)">BỘ VĂN HÓA, THỂ THAO VÀ DU LỊCH</div>
<div class="t b" style="width:300px;text-align:right;font-size:10.2px;line-height:11px;height:11px;transform:matrix(1,-0.00430,0.0105,1,1.52,476.92)">124.698</div>
<div class="t b" style="width:300px;text-align:right;font-size:10.2px;line-height:11px;height:11px;transform:matrix(1,-0.00379,0.0105,1,132.54,476.21)">124.698</div>
<div class="t b" style="width:300px;text-align:right;font-size:10.2px;line-height:11px;height:11px;transform:matrix(1,-0.00287,0.0105,1,198.14,475.71)">77.175</div>
<div class="t b" style="width:300px;text-align:right;font-size:10.2px;line-height:11px;height:11px;transform:matrix(1,-0.00100,0.0105,1,329.71,474.95)">77.175</div>
<div class="t b" style="width:300px;text-align:right;font-size:10.2px;line-height:11px;height:11px;transform:matrix(1,0.00100,0.0105,1,395.67,474.36)">33.023</div>
<div class="t b" style="width:300px;text-align:right;font-size:10.2px;line-height:11px;height:11px;transform:matrix(1,-0.00129,0.0105,1,527.50,475.01)">33.023</div>
<div class="t b" style="width:300px;text-align:right;font-size:10.2px;line-height:11px;height:11px;transform:matrix(1,-0.00314,0.0105,1,593.46,475.43)">14.500</div>
<div class="t b" style="width:300px;text-align:right;font-size:10.2px;line-height:11px;height:11px;transform:matrix(1,-0.00764,0.0105,1,856.73,475.14)">14.500</div>
<div class="t b" style="width:900px;text-align:center;font-size:10.2px;line-height:11px;height:11px;transform:matrix(1,-0.00387,0.0105,1,-417.23,514.36)">15</div>
<div class="t b" style="font-size:10.2px;line-height:11px;height:11px;transform:matrix(1,-0.00388,0.0105,1,47.92,505.61)">BỘ LAO ĐỘNG - THƯƠNG BINH VÀ</div>
<div class="t b" style="font-size:10.2px;line-height:11px;height:11px;transform:matrix(1,-0.00386,0.0105,1,48.06,519.01)">XÃ HỘI</div>
<div class="t b" style="width:300px;text-align:right;font-size:10.2px;line-height:11px;height:11px;transform:matrix(1,-0.00445,0.0105,1,1.92,512.51)">344.929</div>
<div class="t b" style="width:300px;text-align:right;font-size:10.2px;line-height:11px;height:11px;transform:matrix(1,-0.00407,0.0105,1,132.93,511.81)">344.929</div>
<div class="t b" style="width:300px;text-align:right;font-size:10.2px;line-height:11px;height:11px;transform:matrix(1,-0.00317,0.0105,1,198.54,511.30)">52.805</div>
<div class="t b" style="width:300px;text-align:right;font-size:10.2px;line-height:11px;height:11px;transform:matrix(1,-0.00100,0.0105,1,330.10,510.41)">52.805</div>
<div class="t b" style="width:300px;text-align:right;font-size:10.2px;line-height:11px;height:11px;transform:matrix(1,-0.00100,0.0105,1,396.05,510.39)">277.624</div>
<div class="t b" style="width:300px;text-align:right;font-size:10.2px;line-height:11px;height:11px;transform:matrix(1,-0.00161,0.0105,1,527.86,510.50)">277.624</div>
<div class="t b" style="width:300px;text-align:right;font-size:10.2px;line-height:11px;height:11px;transform:matrix(1,-0.00350,0.0105,1,593.81,510.91)">14.500</div>
<div class="t b" style="width:300px;text-align:right;font-size:10.2px;line-height:11px;height:11px;transform:matrix(1,-0.00810,0.0105,1,857.10,510.54)">14.500</div>
<div class="t b" style="width:900px;text-align:center;font-size:10.2px;line-height:11px;height:11px;transform:matrix(1,-0.00382,0.0105,1,-416.95,540.69)">16</div>
<div class="t b" style="font-size:10.2px;line-height:11px;height:11px;transform:matrix(1,-0.00382,0.0105,1,48.20,538.92)">BỘ TƯ PHÁP</div>
<div class="t b" style="width:300px;text-align:right;font-size:10.2px;line-height:11px;height:11px;transform:matrix(1,-0.00456,0.0105,1,2.22,538.95)">27.582</div>
<div class="t b" style="width:300px;text-align:right;font-size:10.2px;line-height:11px;height:11px;transform:matrix(1,-0.00428,0.0105,1,133.23,538.26)">27.582</div>
<div class="t b" style="width:300px;text-align:right;font-size:10.2px;line-height:11px;height:11px;transform:matrix(1,-0.00340,0.0105,1,198.83,537.74)">8.582</div>
<div class="t b" style="width:300px;text-align:right;font-size:10.2px;line-height:11px;height:11px;transform:matrix(1,-0.00100,0.0105,1,330.39,536.76)">8.582</div>
<div class="t b" style="width:300px;text-align:right;font-size:10.2px;line-height:11px;height:11px;transform:matrix(1,-0.00100,0.0105,1,396.34,536.72)">13.000</div>
<div class="t b" style="width:300px;text-align:right;font-size:10.2px;line-height:11px;height:11px;transform:matrix(1,-0.00184,0.0105,1,528.13,536.88)">13.000</div>
<div class="t b" style="width:300px;text-align:right;font-size:10.2px;line-height:11px;height:11px;transform:matrix(1,-0.00376,0.0105,1,594.08,537.27)">6.000</div>
<div class="t b" style="width:300px;text-align:right;font-size:10.2px;line-height:11px;height:11px;transform:matrix(1,-0.00842,0.0105,1,857.38,536.84)">6.000</div>
<div class="t b" style="width:900px;text-align:center;font-size:10.2px;line-height:11px;height:11px;transform:matrix(1,-0.00377,0.0105,1,-416.76,558.18)">17</div>
<div class="t b" style="font-size:10.2px;line-height:11px;height:11px;transform:matrix(1,-0.00377,0.0105,1,48.39,556.42)">NGÂN HÀNG NHÀ NƯỚC VIỆT NAM</div>
<div class="t b" style="width:300px;text-align:right;font-size:10.2px;line-height:11px;height:11px;transform:matrix(1,-0.00462,0.0105,1,2.42,556.47)">890</div>
<div class="t b" style="width:300px;text-align:right;font-size:10.2px;line-height:11px;height:11px;transform:matrix(1,-0.00442,0.0105,1,133.43,555.80)">890</div>
<div class="t b" style="width:300px;text-align:right;font-size:10.2px;line-height:11px;height:11px;transform:matrix(1,-0.00355,0.0105,1,199.04,555.27)">590</div>
<div class="t b" style="width:300px;text-align:right;font-size:10.2px;line-height:11px;height:11px;transform:matrix(1,-0.00100,0.0105,1,330.59,554.22)">590</div>
<div class="t b" style="width:300px;text-align:right;font-size:10.2px;line-height:11px;height:11px;transform:matrix(1,-0.00392,0.0105,1,594.26,554.75)">300</div>
<div class="t b" style="width:300px;text-align:right;font-size:10.2px;line-height:11px;height:11px;transform:matrix(1,-0.00863,0.0105,1,857.57,554.28)">300</div>
<div class="t b" style="width:900px;text-align:center;font-size:10.2px;line-height:11px;height:11px;transform:matrix(1,-0.00371,0.0105,1,-416.57,575.85)">18</div>
<div class="t b" style="font-size:10.2px;line-height:11px;height:11px;transform:matrix(1,-0.00371,0.0105,1,48.58,574.12)">BỘ KẾ HOẠCH VÀ ĐẦU TƯ</div>
<div class="t b" style="width:300px;text-align:right;font-size:10.2px;line-height:11px;height:11px;transform:matrix(1,-0.00468,0.0105,1,2.62,574.19)">20.087</div>
<div class="t b" style="width:300px;text-align:right;font-size:10.2px;line-height:11px;height:11px;transform:matrix(1,-0.00455,0.0105,1,133.64,573.52)">20.087</div>
<div class="t b" style="width:300px;text-align:right;font-size:10.2px;line-height:11px;height:11px;transform:matrix(1,-0.00370,0.0105,1,199.24,572.99)">1.587</div>
<div class="t b" style="width:300px;text-align:right;font-size:10.2px;line-height:11px;height:11px;transform:matrix(1,-0.00109,0.0105,1,330.79,571.91)">1.587</div>
<div class="t b" style="width:300px;text-align:right;font-size:10.2px;line-height:11px;height:11px;transform:matrix(1,-0.00100,0.0105,1,396.73,571.83)">12.500</div>
<div class="t b" style="width:300px;text-align:right;font-size:10.2px;line-height:11px;height:11px;transform:matrix(1,-0.00213,0.0105,1,528.51,572.03)">12.500</div>
<div class="t b" style="width:300px;text-align:right;font-size:10.2px;line-height:11px;height:11px;transform:matrix(1,-0.00408,0.0105,1,594.44,572.42)">6.000</div>
<div class="t b" style="width:300px;text-align:right;font-size:10.2px;line-height:11px;height:11px;transform:matrix(1,-0.00883,0.0105,1,857.76,571.92)">6.000</div>
<div class="t b" style="width:900px;text-align:center;font-size:10.2px;line-height:11px;height:11px;transform:matrix(1,-0.00365,0.0105,1,-416.37,593.55)">19</div>
<div class="t b" style="font-size:10.2px;line-height:11px;height:11px;transform:matrix(1,-0.00365,0.0105,1,48.78,591.85)">BỘ NỘI VỤ</div>
<div class="t b" style="width:300px;text-align:right;font-size:10.2px;line-height:11px;height:11px;transform:matrix(1,-0.00474,0.0105,1,2.83,591.94)">8.987</div>
<div class="t b" style="width:300px;text-align:right;font-size:10.2px;line-height:11px;height:11px;transform:matrix(1,-0.00469,0.0105,1,133.84,591.28)">8.987</div>
<div class="t b" style="width:300px;text-align:right;font-size:10.2px;line-height:11px;height:11px;transform:matrix(1,-0.00384,0.0105,1,199.45,590.75)">1.587</div>
<div class="t b" style="width:300px;text-align:right;font-size:10.2px;line-height:11px;height:11px;transform:matrix(1,-0.00122,0.0105,1,330.99,589.63)">1.587</div>
<div class="t b" style="width:300px;text-align:right;font-size:10.2px;line-height:11px;height:11px;transform:matrix(1,-0.00100,0.0105,1,396.93,589.51)">4.200</div>
<div class="t b" style="width:300px;text-align:right;font-size:10.2px;line-height:11px;height:11px;transform:matrix(1,-0.00227,0.0105,1,528.70,589.74)">4.200</div>
<div class="t b" style="width:300px;text-align:right;font-size:10.2px;line-height:11px;height:11px;transform:matrix(1,-0.00424,0.0105,1,594.63,590.12)">3.200</div>
<div class="t b" style="width:300px;text-align:right;font-size:10.2px;line-height:11px;height:11px;transform:matrix(1,-0.00903,0.0105,1,857.95,589.58)">3.200</div>
<div class="t b" style="width:900px;text-align:center;font-size:10.2px;line-height:11px;height:11px;transform:matrix(1,-0.00358,0.0105,1,-416.18,610.78)">20</div>
<div class="t b" style="font-size:10.2px;line-height:11px;height:11px;transform:matrix(1,-0.00359,0.0105,1,48.97,609.11)">BỘ TÀI NGUYÊN VÀ MÔI TRƯỜNG</div>
<div class="t b" style="width:300px;text-align:right;font-size:10.2px;line-height:11px;height:11px;transform:matrix(1,-0.00479,0.0105,1,3.03,609.22)">15.000</div>
<div class="t b" style="width:300px;text-align:right;font-size:10.2px;line-height:11px;height:11px;transform:matrix(1,-0.00481,0.0105,1,134.05,608.58)">15.000</div>
<div class="t b" style="width:300px;text-align:right;font-size:10.2px;line-height:11px;height:11px;transform:matrix(1,-0.00100,0.0105,1,397.13,606.73)">3.500</div>
<div class="t b" style="width:300px;text-align:right;font-size:10.2px;line-height:11px;height:11px;transform:matrix(1,-0.00239,0.0105,1,528.88,606.98)">3.500</div>
<div class="t b" style="width:300px;text-align:right;font-size:10.2px;line-height:11px;height:11px;transform:matrix(1,-0.00438,0.0105,1,594.81,607.36)">11.500</div>
<div class="t b" style="width:300px;text-align:right;font-size:10.2px;line-height:11px;height:11px;transform:matrix(1,-0.00922,0.0105,1,858.14,606.79)">11.500</div>
<div class="t b" style="width:900px;text-align:center;font-size:10.2px;line-height:11px;height:11px;transform:matrix(1,-0.00351,0.0105,1,-415.99,628.26)">21</div>
<div class="t b" style="font-size:10.2px;line-height:11px;height:11px;transform:matrix(1,-0.00351,0.0105,1,49.16,626.62)">BỘ THÔNG TIN VÀ TRUYỀN THÔNG</div>
<div class="t b" style="width:300px;text-align:right;font-size:10.2px;line-height:11px;height:11px;transform:matrix(1,-0.00484,0.0105,1,3.24,626.76)">64.978</div>
<div class="t b" style="width:300px;text-align:right;font-size:10.2px;line-height:11px;height:11px;transform:matrix(1,-0.00494,0.0105,1,134.26,626.12)">64.978</div>
<div class="t b" style="width:300px;text-align:right;font-size:10.2px;line-height:11px;height:11px;transform:matrix(1,-0.00412,0.0105,1,199.87,625.57)">25.564</div>
<div class="t b" style="width:300px;text-align:right;font-size:10.2px;line-height:11px;height:11px;transform:matrix(1,-0.00145,0.0105,1,331.40,624.42)">25.564</div>
<div class="t b" style="width:300px;text-align:right;font-size:10.2px;line-height:11px;height:11px;transform:matrix(1,-0.00100,0.0105,1,397.33,624.21)">31.114</div>
<div class="t b" style="width:300px;text-align:right;font-size:10.2px;line-height:11px;height:11px;transform:matrix(1,-0.00252,0.0105,1,529.08,624.48)">31.114</div>
<div class="t b" style="width:300px;text-align:right;font-size:10.2px;line-height:11px;height:11px;transform:matrix(1,-0.00452,0.0105,1,595.00,624.86)">8.300</div>
<div class="t b" style="width:300px;text-align:right;font-size:10.2px;line-height:11px;height:11px;transform:matrix(1,-0.00940,0.0105,1,858.33,624.25)">8.300</div>
<div class="t b" style="width:900px;text-align:center;font-size:10.2px;line-height:11px;height:11px;transform:matrix(1,-0.00342,0.0105,1,-415.79,646.05)">22</div>
<div class="t b" style="font-size:10.2px;line-height:11px;height:11px;transform:matrix(1,-0.00342,0.0105,1,49.36,644.46)">ỦY BAN DÂN TỘC</div>
<div class="t b" style="width:300px;text-align:right;font-size:10.2px;line-height:11px;height:11px;transform:matrix(1,-0.00488,0.0105,1,3.45,644.62)">558.416</div>
<div class="t b" style="width:300px;text-align:right;font-size:10.2px;line-height:11px;height:11px;transform:matrix(1,-0.00506,0.0105,1,134.47,643.99)">558.416</div>
<div class="t b" style="width:300px;text-align:right;font-size:10.2px;line-height:11px;height:11px;transform:matrix(1,-0.00425,0.0105,1,200.09,643.44)">558.416</div>
<div class="t b" style="width:300px;text-align:right;font-size:10.2px;line-height:11px;height:11px;transform:matrix(1,-0.00157,0.0105,1,331.62,642.26)">558.416</div>
<div class="t b" style="width:900px;text-align:center;font-size:10.2px;line-height:11px;height:11px;transform:matrix(1,-0.00333,0.0105,1,-415.59,663.79)">23</div>
<div class="t b" style="font-size:10.2px;line-height:11px;height:11px;transform:matrix(1,-0.00333,0.0105,1,49.56,662.24)">KIỂM TOÁN NHÀ NƯỚC</div>
<div class="t b" style="width:300px;text-align:right;font-size:10.2px;line-height:11px;height:11px;transform:matrix(1,-0.00492,0.0105,1,3.66,662.42)">2.000</div>
<div class="t b" style="width:300px;text-align:right;font-size:10.2px;line-height:11px;height:11px;transform:matrix(1,-0.00518,0.0105,1,134.69,661.81)">2.000</div>
<div class="t b" style="width:300px;text-align:right;font-size:10.2px;line-height:11px;height:11px;transform:matrix(1,-0.00117,0.0105,1,397.75,659.81)">2.000</div>
<div class="t b" style="width:300px;text-align:right;font-size:10.2px;line-height:11px;height:11px;transform:matrix(1,-0.00274,0.0105,1,529.47,660.07)">2.000</div>
<div class="t b" style="width:900px;text-align:center;font-size:10.2px;line-height:11px;height:11px;transform:matrix(1,-0.00323,0.0105,1,-415.39,681.52)">24</div>
<div class="t b" style="font-size:10.2px;line-height:11px;height:11px;transform:matrix(1,-0.00323,0.0105,1,49.76,680.02)">THÔNG TẤN XÃ VIỆT NAM</div>
<div class="t b" style="width:300px;text-align:right;font-size:10.2px;line-height:11px;height:11px;transform:matrix(1,-0.00495,0.0105,1,3.87,680.22)">4.500</div>
<div class="t b" style="width:300px;text-align:right;font-size:10.2px;line-height:11px;height:11px;transform:matrix(1,-0.00530,0.0105,1,134.91,679.63)">4.500</div>
<div class="t b" style="width:300px;text-align:right;font-size:10.2px;line-height:11px;height:11px;transform:matrix(1,-0.00126,0.0105,1,397.96,677.59)">4.500</div>
<div class="t b" style="width:300px;text-align:right;font-size:10.2px;line-height:11px;height:11px;transform:matrix(1,-0.00285,0.0105,1,529.68,677.84)">4.500</div>
<div class="t b" style="width:900px;text-align:center;font-size:10.2px;line-height:11px;height:11px;transform:matrix(1,-0.00312,0.0105,1,-415.19,699.17)">25</div>
<div class="t b" style="font-size:10.2px;line-height:11px;height:11px;transform:matrix(1,-0.00312,0.0105,1,49.96,697.71)">ĐÀI TRUYỀN HÌNH VIỆT NAM</div>
<div class="t b" style="width:300px;text-align:right;font-size:10.2px;line-height:11px;height:11px;transform:matrix(1,-0.00498,0.0105,1,4.08,697.94)">3.000</div>
<div class="t b" style="width:300px;text-align:right;font-size:10.2px;line-height:11px;height:11px;transform:matrix(1,-0.00541,0.0105,1,135.13,697.36)">3.000</div>
<div class="t b" style="width:300px;text-align:right;font-size:10.2px;line-height:11px;height:11px;transform:matrix(1,-0.00135,0.0105,1,398.17,695.29)">3.000</div>
<div class="t b" style="width:300px;text-align:right;font-size:10.2px;line-height:11px;height:11px;transform:matrix(1,-0.00294,0.0105,1,529.88,695.53)">3.000</div>
<div class="t b" style="width:900px;text-align:center;font-size:10.2px;line-height:11px;height:11px;transform:matrix(1,-0.00301,0.0105,1,-414.99,716.63)">26</div>
<div class="t b" style="font-size:10.2px;line-height:11px;height:11px;transform:matrix(1,-0.00301,0.0105,1,50.16,715.23)">ĐÀI TIẾNG NÓI VIỆT NAM</div>
<div class="t b" style="width:300px;text-align:right;font-size:10.2px;line-height:11px;height:11px;transform:matrix(1,-0.00500,0.0105,1,4.29,715.48)">4.000</div>
<div class="t b" style="width:300px;text-align:right;font-size:10.2px;line-height:11px;height:11px;transform:matrix(1,-0.00552,0.0105,1,135.34,714.92)">4.000</div>
<div class="t b" style="width:300px;text-align:right;font-size:10.2px;line-height:11px;height:11px;transform:matrix(1,-0.00143,0.0105,1,398.39,712.81)">4.000</div>
<div class="t b" style="width:300px;text-align:right;font-size:10.2px;line-height:11px;height:11px;transform:matrix(1,-0.00303,0.0105,1,530.08,713.04)">4.000</div>
<div class="t b" style="width:900px;text-align:center;font-size:10.2px;line-height:11px;height:11px;transform:matrix(1,-0.00283,0.0105,1,-414.69,742.64)">27</div>
<div class="t b" style="font-size:10.2px;line-height:11px;height:11px;transform:matrix(1,-0.00288,0.0105,1,50.46,734.38)">ỦY BAN TRUNG ƯƠNG MẶT TRẬN TỔ</div>
<div class="t b" style="font-size:10.2px;line-height:11px;height:11px;transform:matrix(1,-0.00278,0.0105,1,50.60,747.78)">QUỐC VIỆT NAM</div>
<div class="t b" style="width:300px;text-align:right;font-size:10.2px;line-height:11px;height:11px;transform:matrix(1,-0.00502,0.0105,1,4.61,741.56)">25.173</div>
<div class="t b" style="width:300px;text-align:right;font-size:10.2px;line-height:11px;height:11px;transform:matrix(1,-0.00567,0.0105,1,135.68,741.02)">25.173</div>
<div class="t b" style="width:300px;text-align:right;font-size:10.2px;line-height:11px;height:11px;transform:matrix(1,-0.00492,0.0105,1,201.31,740.45)">15.873</div>
<div class="t b" style="width:300px;text-align:right;font-size:10.2px;line-height:11px;height:11px;transform:matrix(1,-0.00208,0.0105,1,332.83,739.14)">15.873</div>
<div class="t b" style="width:300px;text-align:right;font-size:10.2px;line-height:11px;height:11px;transform:matrix(1,-0.00153,0.0105,1,398.72,738.86)">6.300</div>
<div class="t b" style="width:300px;text-align:right;font-size:10.2px;line-height:11px;height:11px;transform:matrix(1,-0.00315,0.0105,1,530.39,739.09)">6.300</div>
<div class="t b" style="width:300px;text-align:right;font-size:10.2px;line-height:11px;height:11px;transform:matrix(1,-0.00527,0.0105,1,596.28,739.46)">3.000</div>
<div class="t b" style="width:300px;text-align:right;font-size:10.2px;line-height:11px;height:11px;transform:matrix(1,-0.01045,0.0105,1,859.62,738.69)">3.000</div>
<div class="t b" style="width:900px;text-align:center;font-size:10.2px;line-height:11px;height:11px;transform:matrix(1,-0.00255,0.0105,1,-414.29,777.91)">28</div>
<div class="t b" style="font-size:10.2px;line-height:11px;height:11px;transform:matrix(1,-0.00261,0.0105,1,50.86,769.77)">TRUNG ƯƠNG ĐOÀN THANH NIÊN</div>
<div class="t b" style="font-size:10.2px;line-height:11px;height:11px;transform:matrix(1,-0.00250,0.0105,1,51.00,783.17)">CỘNG SẢN HỒ CHÍ MINH</div>
<div class="t b" style="width:300px;text-align:right;font-size:10.2px;line-height:11px;height:11px;transform:matrix(1,-0.00503,0.0105,1,5.04,777.00)">42.760</div>
<div class="t b" style="width:300px;text-align:right;font-size:10.2px;line-height:11px;height:11px;transform:matrix(1,-0.00586,0.0105,1,136.13,776.50)">42.760</div>
<div class="t b" style="width:300px;text-align:right;font-size:10.2px;line-height:11px;height:11px;transform:matrix(1,-0.00512,0.0105,1,201.77,775.91)">10.360</div>
<div class="t b" style="width:300px;text-align:right;font-size:10.2px;line-height:11px;height:11px;transform:matrix(1,-0.00222,0.0105,1,333.29,774.56)">10.360</div>
<div class="t b" style="width:300px;text-align:right;font-size:10.2px;line-height:11px;height:11px;transform:matrix(1,-0.00165,0.0105,1,399.16,774.27)">19.700</div>
<div class="t b" style="width:300px;text-align:right;font-size:10.2px;line-height:11px;height:11px;transform:matrix(1,-0.00328,0.0105,1,530.81,774.49)">19.700</div>
<div class="t b" style="width:300px;text-align:right;font-size:10.2px;line-height:11px;height:11px;transform:matrix(1,-0.00544,0.0105,1,596.68,774.86)">12.700</div>
<div class="t b" style="width:300px;text-align:right;font-size:10.2px;line-height:11px;height:11px;transform:matrix(1,-0.01072,0.0105,1,860.03,774.05)">12.700</div>
<div class="t b" style="width:900px;text-align:center;font-size:10.2px;line-height:11px;height:11px;transform:matrix(1,-0.00224,0.0105,1,-413.87,813.49)">29</div>
<div class="t b" style="font-size:10.2px;line-height:11px;height:11px;transform:matrix(1,-0.00230,0.0105,1,51.28,805.50)">TRUNG ƯƠNG HỘI LIÊN HIỆP PHỤ</div>
<div class="t b" style="font-size:10.2px;line-height:11px;height:11px;transform:matrix(1,-0.00218,0.0105,1,51.42,818.90)">NỮ VIỆT NAM</div>
<div class="t b" style="width:300px;text-align:right;font-size:10.2px;line-height:11px;height:11px;transform:matrix(1,-0.00501,0.0105,1,5.49,812.78)">116.611</div>
<div class="t b" style="width:300px;text-align:right;font-size:10.2px;line-height:11px;height:11px;transform:matrix(1,-0.00602,0.0105,1,136.60,812.32)">116.611</div>
<div class="t b" style="width:300px;text-align:right;font-size:10.2px;line-height:11px;height:11px;transform:matrix(1,-0.00530,0.0105,1,202.25,811.72)">78.511</div>
<div class="t b" style="width:300px;text-align:right;font-size:10.2px;line-height:11px;height:11px;transform:matrix(1,-0.00232,0.0105,1,333.76,810.33)">78.511</div>
<div class="t b" style="width:300px;text-align:right;font-size:10.2px;line-height:11px;height:11px;transform:matrix(1,-0.00172,0.0105,1,399.63,810.03)">23.100</div>
<div class="t b" style="width:300px;text-align:right;font-size:10.2px;line-height:11px;height:11px;transform:matrix(1,-0.00338,0.0105,1,531.25,810.24)">23.100</div>
<div class="t b" style="width:300px;text-align:right;font-size:10.2px;line-height:11px;height:11px;transform:matrix(1,-0.00558,0.0105,1,597.10,810.61)">15.000</div>
<div class="t b" style="width:300px;text-align:right;font-size:10.2px;line-height:11px;height:11px;transform:matrix(1,-0.01097,0.0105,1,860.44,809.79)">15.000</div>
</div>
<svg id="grid" width="1251" height="913" viewBox="0 0 1251 913">
<polyline points="14.66,67.90 40.56,67.84 233.50,67.38 299.22,67.25 364.96,67.13 430.69,67.05 496.43,67.03 562.16,67.09 628.16,67.26 694.16,67.49 760.15,67.75 826.15,67.99 892.15,68.18 957.88,68.29 1023.62,68.33 1089.35,68.31 1155.89,68.28" fill="none" stroke="#050505" stroke-width="1.8"/>
<polyline points="22.98,835.27 48.68,835.22 241.99,834.69 307.70,834.41 373.37,834.04 439.03,833.63 504.69,833.25 570.35,832.95 636.20,832.75 702.05,832.63 767.91,832.51 833.76,832.33 899.61,832.04 965.47,831.58 1031.33,830.98 1097.19,830.29 1163.65,829.55" fill="none" stroke="#151515" stroke-width="1.0"/>
<polyline points="15.46,67.40 16.02,126.51 16.60,185.61 17.18,244.72 17.78,303.82 18.38,362.93 19.00,422.03 19.62,481.14 20.26,540.24 20.90,599.35 21.56,658.45 22.22,717.56 22.90,776.66 23.59,835.77" fill="none" stroke="#050505" stroke-width="1.6"/>
<polyline points="1155.08,67.78 1155.63,126.42 1156.18,185.05 1156.75,243.69 1157.32,302.33 1157.91,360.96 1158.51,419.60 1159.13,478.23 1159.75,536.87 1160.39,595.51 1161.04,654.14 1161.70,712.78 1162.37,771.42 1163.05,830.05" fill="none" stroke="#050505" stroke-width="1.85"/>
<polyline points="16.18,142.54 41.28,142.46 234.23,141.91 299.95,141.74 365.64,141.60 431.34,141.49 497.04,141.45 562.74,141.48 628.73,141.62 694.73,141.81 760.73,142.03 826.73,142.22 892.72,142.35 958.49,142.38 1024.25,142.32 1090.01,142.21 1155.77,142.08" fill="none" stroke="#0d0d0d" stroke-width="1.0"/>
<polyline points="16.37,162.69 41.47,162.61 234.43,162.03 300.15,161.86 365.84,161.71 431.52,161.59 497.21,161.54 562.90,161.57 628.90,161.69 694.89,161.88 760.89,162.08 826.89,162.26 892.89,162.37 958.66,162.37 1024.42,162.30 1090.19,162.16 1155.96,162.00" fill="none" stroke="#0d0d0d" stroke-width="1.0"/>
<polyline points="16.55,181.09 41.65,181.01 234.61,180.41 300.33,180.23 366.01,180.07 431.69,179.95 497.37,179.88 563.05,179.91 629.05,180.02 695.04,180.20 761.04,180.39 827.04,180.55 893.03,180.64 958.81,180.63 1024.59,180.54 1090.36,180.38 1156.13,180.20" fill="none" stroke="#0d0d0d" stroke-width="1.0"/>
<polyline points="16.73,199.33 41.83,199.25 234.80,198.63 300.52,198.44 366.19,198.28 431.86,198.15 497.53,198.08 563.20,198.09 629.20,198.20 695.20,198.36 761.19,198.54 827.19,198.69 893.18,198.77 958.97,198.74 1024.75,198.62 1090.53,198.44 1156.31,198.24" fill="none" stroke="#0d0d0d" stroke-width="1.0"/>
<polyline points="16.90,216.88 42.00,216.79 234.97,216.16 300.69,215.96 366.36,215.79 432.02,215.65 497.69,215.57 563.35,215.58 629.35,215.67 695.34,215.83 761.34,216.00 827.34,216.14 893.33,216.20 959.12,216.15 1024.90,216.01 1090.69,215.82 1156.47,215.59" fill="none" stroke="#0d0d0d" stroke-width="1.0"/>
<polyline points="17.08,234.32 42.18,234.23 235.15,233.58 300.87,233.38 366.53,233.20 432.19,233.05 497.85,232.97 563.50,232.96 629.50,233.05 695.49,233.20 761.49,233.35 827.48,233.48 893.48,233.53 959.27,233.46 1025.06,233.31 1090.85,233.09 1156.64,232.84" fill="none" stroke="#0d0d0d" stroke-width="1.0"/>
<polyline points="17.43,269.93 42.53,269.84 235.52,269.16 301.24,268.94 366.88,268.74 432.53,268.58 498.18,268.48 563.82,268.46 629.81,268.53 695.81,268.65 761.80,268.79 827.79,268.89 893.78,268.90 959.58,268.81 1025.39,268.61 1091.19,268.35 1156.98,268.06" fill="none" stroke="#0d0d0d" stroke-width="1.0"/>
<polyline points="17.61,287.52 42.71,287.43 235.70,286.73 301.42,286.51 367.06,286.31 432.70,286.14 498.34,286.02 563.98,285.99 629.97,286.05 695.97,286.17 761.96,286.29 827.95,286.38 893.94,286.38 959.74,286.27 1025.55,286.05 1091.35,285.78 1157.16,285.47" fill="none" stroke="#0d0d0d" stroke-width="1.0"/>
<polyline points="17.79,305.12 42.89,305.02 235.89,304.31 301.60,304.09 367.24,303.87 432.87,303.70 498.51,303.57 564.15,303.53 630.14,303.58 696.13,303.69 762.11,303.80 828.10,303.87 894.09,303.86 959.90,303.73 1025.71,303.50 1091.52,303.20 1157.33,302.87" fill="none" stroke="#0d0d0d" stroke-width="1.0"/>
<polyline points="17.96,322.22 43.06,322.12 236.07,321.41 301.78,321.17 367.41,320.95 433.05,320.77 498.68,320.64 564.31,320.59 630.30,320.62 696.28,320.72 762.27,320.82 828.26,320.88 894.24,320.86 960.06,320.71 1025.87,320.47 1091.69,320.15 1157.50,319.80" fill="none" stroke="#0d0d0d" stroke-width="1.0"/>
<polyline points="18.33,358.32 43.43,358.23 236.45,357.49 302.17,357.24 367.79,357.01 433.41,356.81 499.04,356.66 564.66,356.58 630.64,356.60 696.62,356.68 762.61,356.76 828.59,356.79 894.57,356.74 960.39,356.56 1026.22,356.28 1092.04,355.93 1157.86,355.54" fill="none" stroke="#0d0d0d" stroke-width="1.0"/>
<polyline points="18.52,375.86 43.61,375.76 236.64,375.01 302.35,374.76 367.97,374.52 433.59,374.31 499.21,374.15 564.83,374.07 630.81,374.08 696.79,374.14 762.77,374.21 828.75,374.24 894.73,374.17 960.56,373.97 1026.39,373.68 1092.21,373.31 1158.03,372.90" fill="none" stroke="#0d0d0d" stroke-width="1.0"/>
<polyline points="18.70,393.35 43.80,393.25 236.83,392.50 302.54,392.24 368.16,391.99 433.78,391.77 499.39,391.60 565.01,391.51 630.99,391.51 696.97,391.56 762.94,391.62 828.92,391.63 894.90,391.55 960.73,391.35 1026.56,391.03 1092.38,390.64 1158.21,390.22" fill="none" stroke="#0d0d0d" stroke-width="1.0"/>
<polyline points="18.88,410.94 43.98,410.84 237.02,410.08 302.73,409.82 368.35,409.57 433.96,409.33 499.58,409.16 565.19,409.05 631.16,409.04 697.14,409.08 763.11,409.13 829.09,409.13 895.06,409.04 960.90,408.82 1026.73,408.49 1092.56,408.08 1158.39,407.64" fill="none" stroke="#0d0d0d" stroke-width="1.0"/>
<polyline points="19.06,428.39 44.16,428.29 237.21,427.53 302.92,427.26 368.54,427.00 434.15,426.76 499.76,426.57 565.37,426.46 631.34,426.44 697.31,426.47 763.29,426.51 829.26,426.50 895.23,426.39 961.07,426.15 1026.90,425.81 1092.74,425.39 1158.57,424.93" fill="none" stroke="#0d0d0d" stroke-width="1.0"/>
<polyline points="19.25,446.11 44.35,446.01 237.40,445.24 303.12,444.97 368.73,444.70 434.34,444.46 499.95,444.26 565.56,444.13 631.53,444.10 697.50,444.12 763.46,444.15 829.43,444.13 895.40,444.01 961.24,443.76 1027.08,443.40 1092.91,442.96 1158.75,442.49" fill="none" stroke="#0d0d0d" stroke-width="1.0"/>
<polyline points="19.44,463.83 44.54,463.73 237.60,462.96 303.32,462.69 368.92,462.41 434.53,462.15 500.14,461.94 565.75,461.81 631.71,461.77 697.68,461.78 763.64,461.80 829.61,461.77 895.57,461.64 961.41,461.37 1027.26,460.99 1093.10,460.54 1158.94,460.05" fill="none" stroke="#0d0d0d" stroke-width="1.0"/>
<polyline points="19.82,500.10 44.92,500.00 238.00,499.23 303.72,498.95 369.33,498.66 434.93,498.38 500.54,498.15 566.14,498.00 632.10,497.94 698.06,497.93 764.02,497.93 829.97,497.87 895.93,497.72 961.78,497.43 1027.62,497.02 1093.47,496.54 1159.31,496.01" fill="none" stroke="#0d0d0d" stroke-width="1.0"/>
<polyline points="20.20,534.93 45.30,534.83 238.40,534.06 304.11,533.78 369.72,533.47 435.32,533.18 500.93,532.93 566.53,532.76 632.48,532.68 698.43,532.65 764.38,532.63 830.33,532.56 896.28,532.38 962.13,532.07 1027.99,531.63 1093.83,531.12 1159.68,530.57" fill="none" stroke="#0d0d0d" stroke-width="1.0"/>
<polyline points="20.39,552.52 45.49,552.43 238.60,551.66 304.32,551.37 369.92,551.06 435.52,550.76 501.13,550.50 566.74,550.32 632.68,550.23 698.63,550.19 764.57,550.16 830.52,550.08 896.46,549.89 962.32,549.56 1028.17,549.12 1094.02,548.59 1159.87,548.03" fill="none" stroke="#0d0d0d" stroke-width="1.0"/>
<polyline points="20.58,569.94 45.68,569.84 238.80,569.08 304.51,568.79 370.12,568.47 435.73,568.17 501.33,567.90 566.94,567.70 632.88,567.61 698.82,567.56 764.76,567.52 830.70,567.43 896.64,567.24 962.50,566.90 1028.35,566.44 1094.21,565.90 1160.06,565.32" fill="none" stroke="#0d0d0d" stroke-width="1.0"/>
<polyline points="20.78,587.91 45.88,587.82 239.01,587.07 304.72,586.77 370.33,586.45 435.94,586.13 501.54,585.86 567.15,585.65 633.09,585.55 699.02,585.49 764.96,585.45 830.90,585.35 896.83,585.14 962.69,584.79 1028.54,584.32 1094.40,583.76 1160.25,583.17" fill="none" stroke="#0d0d0d" stroke-width="1.0"/>
<polyline points="20.97,605.39 46.07,605.30 239.21,604.55 304.93,604.25 370.53,603.93 436.14,603.60 501.75,603.32 567.36,603.11 633.29,602.99 699.22,602.93 765.15,602.87 831.09,602.77 897.02,602.55 962.87,602.19 1028.73,601.70 1094.59,601.14 1160.44,600.53" fill="none" stroke="#0d0d0d" stroke-width="1.0"/>
<polyline points="21.16,622.43 46.26,622.34 239.41,621.60 305.12,621.30 370.73,620.97 436.34,620.64 501.95,620.35 567.56,620.12 633.49,620.00 699.42,619.93 765.35,619.87 831.27,619.75 897.20,619.53 963.06,619.16 1028.92,618.66 1094.77,618.09 1160.63,617.47" fill="none" stroke="#0d0d0d" stroke-width="1.0"/>
<polyline points="21.36,640.41 46.46,640.32 239.62,639.60 305.34,639.29 370.95,638.96 436.56,638.62 502.17,638.32 567.78,638.09 633.71,637.95 699.63,637.88 765.55,637.81 831.47,637.68 897.39,637.45 963.25,637.07 1029.11,636.56 1094.97,635.97 1160.83,635.35" fill="none" stroke="#0d0d0d" stroke-width="1.0"/>
<polyline points="21.55,658.10 46.65,658.02 239.83,657.30 305.54,657.00 371.16,656.66 436.77,656.31 502.39,656.00 568.00,655.76 633.92,655.62 699.84,655.54 765.75,655.46 831.67,655.33 897.58,655.09 963.45,654.70 1029.30,654.18 1095.16,653.58 1161.02,652.94" fill="none" stroke="#0d0d0d" stroke-width="1.0"/>
<polyline points="21.76,675.96 46.85,675.87 240.04,675.17 305.76,674.87 371.37,674.52 436.99,674.17 502.61,673.85 568.23,673.60 634.14,673.45 700.05,673.37 765.96,673.28 831.87,673.14 897.78,672.90 963.64,672.50 1029.50,671.97 1095.36,671.36 1161.22,670.70" fill="none" stroke="#0d0d0d" stroke-width="1.0"/>
<polyline points="21.95,693.66 47.05,693.58 240.25,692.89 305.97,692.59 371.59,692.24 437.21,691.88 502.83,691.55 568.45,691.30 634.36,691.14 700.26,691.05 766.17,690.96 832.07,690.82 897.98,690.56 963.84,690.15 1029.70,689.61 1095.56,688.99 1161.42,688.33" fill="none" stroke="#0d0d0d" stroke-width="1.0"/>
<polyline points="22.15,711.34 47.25,711.26 240.46,710.59 306.18,710.29 371.81,709.94 437.43,709.57 503.05,709.23 568.68,708.97 634.58,708.81 700.48,708.71 766.38,708.61 832.28,708.46 898.17,708.20 964.04,707.78 1029.90,707.24 1095.76,706.60 1161.62,705.93" fill="none" stroke="#0d0d0d" stroke-width="1.0"/>
<polyline points="22.35,728.69 47.45,728.62 240.67,727.96 306.39,727.66 372.02,727.30 437.65,726.93 503.28,726.58 568.91,726.31 634.80,726.15 700.69,726.04 766.58,725.94 832.48,725.79 898.37,725.52 964.23,725.09 1030.09,724.54 1095.95,723.90 1161.81,723.21" fill="none" stroke="#0d0d0d" stroke-width="1.0"/>
<polyline points="22.75,763.82 47.85,763.76 241.10,763.14 306.82,762.84 372.46,762.48 438.09,762.09 503.73,761.73 569.37,761.45 635.25,761.27 701.13,761.16 767.01,761.05 832.89,760.89 898.77,760.61 964.63,760.17 1030.50,759.60 1096.36,758.94 1162.22,758.24" fill="none" stroke="#0d0d0d" stroke-width="1.0"/>
<polyline points="23.16,799.45 48.26,799.40 241.54,798.82 307.26,798.53 372.91,798.16 438.56,797.77 504.20,797.39 569.85,797.10 635.72,796.91 701.59,796.79 767.45,796.68 833.32,796.50 899.19,796.22 965.05,795.77 1030.91,795.18 1096.77,794.51 1162.63,793.79" fill="none" stroke="#0d0d0d" stroke-width="1.0"/>
<polyline points="40.56,67.84 41.13,126.87 41.70,185.90 42.28,244.93 42.88,303.96 43.48,362.98 44.10,422.01 44.72,481.04 45.36,540.07 46.00,599.10 46.66,658.13 47.32,717.16 48.00,776.19 48.68,835.22" fill="none" stroke="#0d0d0d" stroke-width="1.0"/>
<polyline points="233.50,67.38 234.08,126.41 234.66,185.43 235.26,244.45 235.88,303.48 236.50,362.50 237.14,421.53 237.79,480.55 238.46,539.57 239.14,598.60 239.83,657.62 240.54,716.65 241.26,775.67 241.99,834.69" fill="none" stroke="#0d0d0d" stroke-width="1.0"/>
<polyline points="299.22,67.25 299.80,126.26 300.38,185.27 300.98,244.28 301.59,303.29 302.22,362.31 302.86,421.32 303.51,480.33 304.18,539.34 304.86,598.36 305.55,657.37 306.25,716.38 306.97,775.39 307.70,834.41" fill="none" stroke="#0d0d0d" stroke-width="1.0"/>
<polyline points="365.17,90.87 365.71,148.04 366.25,205.20 366.82,262.37 367.40,319.54 368.00,376.70 368.61,433.87 369.24,491.04 369.89,548.20 370.55,605.37 371.23,662.54 371.93,719.70 372.64,776.87 373.37,834.04" fill="none" stroke="#0d0d0d" stroke-width="1.0"/>
<polyline points="430.69,67.05 431.20,126.01 431.74,184.98 432.29,243.95 432.87,302.92 433.46,361.89 434.08,420.86 434.72,479.82 435.39,538.79 436.07,597.76 436.78,656.73 437.51,715.70 438.26,774.67 439.03,833.63" fill="none" stroke="#0d0d0d" stroke-width="1.0"/>
<polyline points="496.62,90.76 497.09,147.87 497.59,204.99 498.12,262.10 498.66,319.22 499.24,376.33 499.83,433.45 500.45,490.56 501.10,547.68 501.77,604.79 502.46,661.91 503.18,719.02 503.92,776.14 504.69,833.25" fill="none" stroke="#0d0d0d" stroke-width="1.0"/>
<polyline points="562.42,101.88 562.87,158.11 563.34,214.35 563.84,270.58 564.37,326.82 564.92,383.06 565.51,439.29 566.12,495.53 566.75,551.77 567.42,608.00 568.11,664.24 568.83,720.47 569.58,776.71 570.35,832.95" fill="none" stroke="#0d0d0d" stroke-width="1.0"/>
<polyline points="628.16,67.26 628.61,126.14 629.09,185.02 629.59,243.91 630.13,302.79 630.69,361.68 631.28,420.56 631.90,479.45 632.55,538.33 633.22,597.21 633.93,656.10 634.66,714.98 635.41,773.87 636.20,832.75" fill="none" stroke="#0d0d0d" stroke-width="1.0"/>
<polyline points="694.33,91.19 694.78,148.22 695.25,205.26 695.75,262.29 696.27,319.32 696.82,376.36 697.39,433.39 697.98,490.42 698.60,547.46 699.24,604.49 699.91,661.53 700.60,718.56 701.31,775.59 702.05,832.63" fill="none" stroke="#0d0d0d" stroke-width="1.0"/>
<polyline points="760.42,102.48 760.86,158.64 761.33,214.79 761.82,270.95 762.33,327.11 762.86,383.26 763.42,439.42 763.99,495.57 764.59,551.73 765.21,607.88 765.85,664.04 766.52,720.20 767.20,776.35 767.91,832.51" fill="none" stroke="#0d0d0d" stroke-width="1.0"/>
<polyline points="826.15,67.99 826.60,126.79 827.08,185.58 827.58,244.38 828.10,303.17 828.64,361.97 829.20,420.77 829.79,479.56 830.40,538.36 831.02,597.15 831.68,655.95 832.35,714.74 833.04,773.54 833.76,832.33" fill="none" stroke="#0d0d0d" stroke-width="1.0"/>
<polyline points="892.33,91.83 892.78,148.77 893.24,205.71 893.73,262.65 894.23,319.59 894.76,376.53 895.30,433.47 895.86,490.41 896.44,547.34 897.03,604.28 897.65,661.22 898.29,718.16 898.94,775.10 899.61,832.04" fill="none" stroke="#0d0d0d" stroke-width="1.0"/>
<polyline points="958.25,114.15 958.75,173.93 959.27,233.72 959.81,293.51 960.36,353.29 960.94,413.08 961.53,472.86 962.14,532.65 962.77,592.43 963.42,652.22 964.08,712.01 964.77,771.79 965.47,831.58" fill="none" stroke="#0d0d0d" stroke-width="1.0"/>
<polyline points="1024.01,114.13 1024.53,173.87 1025.06,233.60 1025.62,293.34 1026.19,353.08 1026.77,412.82 1027.37,472.55 1027.99,532.29 1028.63,592.03 1029.28,651.77 1029.95,711.50 1030.63,771.24 1031.33,830.98" fill="none" stroke="#0d0d0d" stroke-width="1.0"/>
<polyline points="1089.66,102.87 1090.16,158.82 1090.68,214.78 1091.21,270.74 1091.75,326.69 1092.30,382.65 1092.87,438.60 1093.45,494.56 1094.04,550.51 1094.65,606.47 1095.26,662.42 1095.89,718.38 1096.53,774.33 1097.19,830.29" fill="none" stroke="#0d0d0d" stroke-width="1.0"/>
<polyline points="299.45,91.00 365.17,90.87 430.90,90.78 496.62,90.76 562.34,90.81 628.34,90.97 694.33,91.19 760.33,91.44 826.33,91.66 892.33,91.83 958.07,91.92 1023.82,91.92 1089.56,91.88 1155.31,91.81" fill="none" stroke="#0d0d0d" stroke-width="1.0"/>
<polyline points="496.71,101.82 562.42,101.88 628.42,102.03" fill="none" stroke="#0d0d0d" stroke-width="1.0"/>
<polyline points="694.42,102.24 760.42,102.48 826.42,102.70" fill="none" stroke="#0d0d0d" stroke-width="1.0"/>
<polyline points="892.41,102.86 958.16,102.93 1023.91,102.93 1089.66,102.87 1155.41,102.79" fill="none" stroke="#0d0d0d" stroke-width="1.0"/>
<polyline points="892.50,114.09 958.25,114.15 1024.01,114.13 1089.76,114.06" fill="none" stroke="#0d0d0d" stroke-width="1.0"/>
<path d="M1169.9 831.9 C1166.5 834.6 1162 838.6 1160.2 842.4 C1158.8 845.4 1159.6 847.3 1161.6 846.9 C1163.6 846.4 1165.4 843.2 1167.9 841.4 C1166 843.2 1164.6 845 1164.7 846.6 C1165 849.4 1167 852.4 1169.4 854.2" fill="none" stroke="#000" stroke-width="2.8" stroke-linecap="round" stroke-linejoin="round"/><path d="M1168.6 855.4 C1171.5 851.6 1174 848.6 1177 846.3 C1183 841.8 1189 837.6 1195.6 833.8 C1189 838.2 1183.5 842.4 1178.4 846.9 C1175.3 849.6 1172.6 852.6 1170.4 855.6 Z" fill="#000" stroke="#000" stroke-width="0.5" stroke-linejoin="round"/><circle cx="1163.3" cy="32.3" r="0.8" fill="#333"/><circle cx="1190.6" cy="60.6" r="0.6" fill="#777"/>
</svg>
</body></html>
